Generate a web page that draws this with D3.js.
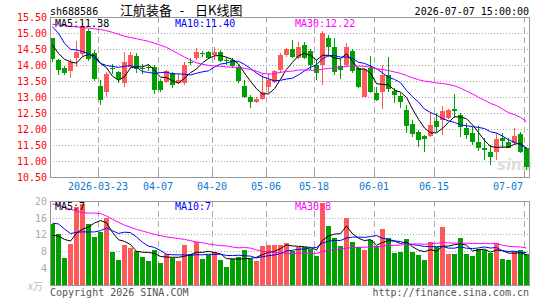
<!DOCTYPE html>
<html>
<head>
<meta charset="utf-8">
<script src="https://cdn.jsdelivr.net/npm/d3@7"></script>
<style>
  body { margin: 0; background: #fff; }
  text { font-family: "DejaVu Sans Mono", monospace; font-size: 10px; }
</style>
</head>
<body>
<div id="chart"></div>
<script>
// trading days shown
var dates = ["03-11","03-12","03-13","03-16","03-17","03-18","03-19","03-20","03-23","03-24",
  "03-25","03-26","03-27","03-30","03-31","04-01","04-02","04-03","04-07","04-08",
  "04-09","04-10","04-13","04-14","04-15","04-16","04-17","04-20","04-21","04-22",
  "04-23","04-24","04-27","04-28","04-29","04-30","05-06","05-07","05-08","05-11",
  "05-12","05-13","05-14","05-15","05-18","05-19","05-20","05-21","05-22","05-25",
  "05-26","05-27","05-28","05-29","06-01","06-02","06-03","06-04","06-05","06-08",
  "06-09","06-10","06-11","06-12","06-15","06-16","06-17","06-18","06-22","06-23",
  "06-24","06-25","06-26","06-29","06-30","07-01","07-02","07-03","07-06","07-07"];

var opens = [14.83,14.16,13.90,13.82,14.22,14.35,15.07,14.36,13.33,13.17,
  13.92,13.79,13.43,13.95,14.28,13.90,13.94,13.95,13.50,13.48,
  13.74,13.45,13.43,14.10,14.21,14.36,14.40,14.31,14.40,14.16,
  14.16,13.95,13.34,12.99,12.85,12.94,13.32,13.48,13.84,14.31,
  14.50,14.21,14.63,14.43,14.00,14.00,14.84,14.55,13.96,14.00,
  14.45,13.92,13.01,13.92,13.13,13.16,13.68,13.19,13.03,12.59,
  12.15,11.92,11.78,11.79,12.25,12.28,12.33,12.62,12.44,12.04,
  11.86,11.60,11.41,11.29,11.29,11.71,11.60,11.55,11.83,11.40];

var highs = [14.85,14.20,13.97,14.18,14.76,15.30,15.11,14.47,13.53,13.79,
  14.04,13.82,14.40,14.40,14.36,14.04,14.00,13.99,13.55,13.84,
  13.79,13.72,14.10,14.21,14.54,14.45,14.44,14.55,14.47,14.26,
  14.21,14.00,13.53,13.06,12.99,13.74,13.74,13.84,14.36,14.52,
  14.78,14.73,14.73,14.49,14.16,15.07,14.94,14.83,14.20,14.68,
  14.50,13.95,13.89,14.28,13.30,13.99,14.25,13.27,13.11,12.75,
  12.28,11.97,11.81,12.54,12.49,12.72,12.62,13.09,12.49,12.18,
  12.07,12.09,11.71,11.50,11.86,11.86,11.71,12.02,11.92,11.45];

var lows = [14.10,13.69,13.69,13.60,13.93,14.26,14.12,13.51,12.75,12.99,
  13.71,13.43,13.32,13.87,13.74,13.73,13.80,13.08,13.17,13.43,
  13.29,13.41,13.38,14.00,14.16,14.25,14.18,14.16,14.10,14.00,
  13.90,13.43,12.96,12.65,12.80,12.91,13.11,13.43,13.74,14.26,
  14.21,14.18,14.18,13.84,13.53,13.38,14.26,13.69,13.57,13.95,
  13.75,13.27,12.99,13.11,12.86,12.64,13.16,12.80,12.65,11.89,
  11.76,11.45,11.29,11.76,11.92,11.81,12.30,12.33,11.76,11.70,
  11.50,11.32,11.03,10.87,11.03,11.40,11.40,11.50,11.26,10.72];

var closes = [14.18,13.84,13.76,14.10,14.40,15.22,14.18,13.55,12.91,13.72,
  13.88,13.55,14.10,14.31,13.87,13.87,13.92,13.21,13.22,13.81,
  13.38,13.53,14.00,14.07,14.40,14.33,14.21,14.42,14.13,14.12,
  13.98,13.50,13.01,12.85,12.94,13.17,13.53,13.81,14.31,14.50,
  14.26,14.55,14.21,14.00,13.74,15.00,14.57,13.79,13.85,14.55,
  13.82,13.32,13.87,13.17,12.91,13.68,13.26,13.06,12.85,12.10,
  11.85,11.66,11.69,12.12,12.07,12.57,12.59,12.57,12.07,11.81,
  11.60,11.40,11.34,11.11,11.69,11.62,11.42,11.78,11.28,10.80];

// volume, in 10k lots
var volumes = [14.6,12.2,6.4,9.8,18.5,19.4,14.6,11.4,12.6,16.0,
  7.8,5.8,9.4,8.8,8.0,6.6,5.6,8.2,5.2,7.2,
  6.4,5.6,9.4,7.2,10.1,6.1,7.0,7.8,5.8,4.2,
  6.0,6.6,8.2,6.2,5.6,9.2,9.4,9.4,9.4,10.0,
  8.0,8.9,8.9,8.6,6.9,19.6,14.1,11.2,9.2,16.0,
  10.2,8.9,8.2,10.6,9.2,13.3,11.2,7.6,7.8,10.9,
  7.8,7.0,5.8,10.2,9.0,13.8,7.3,7.4,11.2,7.4,
  6.9,8.6,8.2,7.6,10.0,6.1,5.8,8.0,8.2,7.4];

// moving-average values at the left edge, before the window is full
var ma5Head = [14.62,14.36,14.18,14.10];
var ma10Head = [15.20,14.99,14.68,14.49,14.47,14.42,14.36,14.21,14.05];
var ma30Head = [15.27,15.25,15.23,15.21,15.19,15.17,15.15,15.13,15.11,15.07,
  15.02,14.96,14.90,14.86,14.82,14.78,14.74,14.68,14.62,14.55,
  14.45,14.35,14.25,14.15,14.07,14.02,13.99,13.97,13.96];
var volMa5Head = [11.8,11.6,10.8,10.4];
var volMa10Head = [14.7,14.5,13.3,12.2,12.5,12.6,12.6,12.6,12.9];
var volMa30Head = [19.3,19.0,18.5,18.0,17.6,17.2,17.1,17.1,17.0,16.4,
  15.6,14.9,14.2,13.7,13.2,12.8,12.4,12.0,11.7,11.4,
  11.2,11.0,10.8,10.5,10.2,10.0,9.7,9.5,9.3];

var priceMaLabels = ["MA5:11.38","MA10:11.40","MA30:12.22"];
var volMaLabels = ["MA5:7","MA10:7","MA30:8"];

var priceTicks = [10.5,11,11.5,12,12.5,13,13.5,14,14.5,15,15.5];
var volTicks = [4,8,12,16,20];
var tickDates = ["03-23","04-07","04-20","05-06","05-18","06-01","06-15","07-07"];
var tickLabels = ["2026-03-23","04-07","04-20","05-06","05-18","06-01","06-15","07-07"];

(function(){

  var width = 545, height = 300,
      left = 50, right = 529,
      priceTop = 17, priceBottom = 177,
      volTop = 201, volBottom = 285,
      upColor = "#ff5a5a",
      downColor = "#00a000",
      maColors = ["#000", "#0000ff", "#ff00ff"],
      gridColor = "#aaa",
      frameColor = "#999";

  function movingAverage(values, n, head){
    return values.map(function(v, i){
      if (i < n - 1) return head[i];
      return d3.mean(values.slice(i - n + 1, i + 1));
    });
  }

  var svg = d3.select("#chart").append("svg")
      .attr("width", width)
      .attr("height", height);

  var x = d3.scaleBand()
      .domain(dates)
      .range([left - 0.5, right + 0.5])
      .paddingInner(1/6)
      .paddingOuter(1/12);

  var y = d3.scaleLinear().domain([10.5, 15.5]).range([priceBottom, priceTop]);
  var yVol = d3.scaleLinear().domain([0, 20]).range([volBottom - 0.5, volTop]);

  var mid = function(i){ return x(dates[i]) + x.bandwidth() / 2; };
  var up = function(i){ return closes[i] >= opens[i]; };

  // grids
  var grid = svg.append("g").attr("shape-rendering", "crispEdges");

  grid.selectAll("line.hp")
    .data(priceTicks.slice(1, -1))
    .enter().append("line")
      .attr("x1", left).attr("x2", right)
      .attr("y1", function(d){ return Math.round(y(d)) + 0.5; })
      .attr("y2", function(d){ return Math.round(y(d)) + 0.5; })
      .attr("stroke", gridColor)
      .attr("stroke-dasharray", "1,2");

  grid.selectAll("line.hv")
    .data(volTicks.slice(0, -1))
    .enter().append("line")
      .attr("x1", left).attr("x2", right)
      .attr("y1", function(d){ return Math.round(yVol(d)) + 0.5; })
      .attr("y2", function(d){ return Math.round(yVol(d)) + 0.5; })
      .attr("stroke", gridColor)
      .attr("stroke-dasharray", "1,2");

  [[priceTop, priceBottom], [volTop, volBottom]].forEach(function(p){
    grid.selectAll(null)
      .data(tickDates)
      .enter().append("line")
        .attr("x1", function(d){ return x(d) + 0.5; })
        .attr("x2", function(d){ return x(d) + 0.5; })
        .attr("y1", p[0]).attr("y2", p[1])
        .attr("stroke", gridColor)
        .attr("stroke-dasharray", "6,4");
  });

  // x ticks
  grid.selectAll("line.tick")
    .data(tickDates)
    .enter().append("line")
      .attr("x1", function(d){ return x(d) + 0.5; })
      .attr("x2", function(d){ return x(d) + 0.5; })
      .attr("y1", priceBottom - 5).attr("y2", priceBottom)
      .attr("stroke", frameColor);

  // watermark
  svg.append("text")
    .attr("x", 497).attr("y", 170)
    .style("font-family", "DejaVu Sans")
    .style("font-size", "15px")
    .style("font-style", "italic")
    .style("font-weight", "bold")
    .attr("fill", "#ddd")
    .text("sina");

  // candles
  var candle = svg.append("g")
      .attr("shape-rendering", "crispEdges")
    .selectAll("g")
    .data(d3.range(dates.length))
    .enter().append("g");

  candle.append("line")
    .attr("x1", function(i){ return mid(i); })
    .attr("x2", function(i){ return mid(i); })
    .attr("y1", function(i){ return y(highs[i]); })
    .attr("y2", function(i){ return y(lows[i]); })
    .attr("stroke", function(i){ return up(i) ? upColor : downColor; });

  candle.append("rect")
    .attr("x", function(i){ return x(dates[i]); })
    .attr("width", x.bandwidth())
    .attr("y", function(i){ return y(Math.max(opens[i], closes[i])); })
    .attr("height", function(i){ return Math.max(1, Math.abs(y(opens[i]) - y(closes[i]))); })
    .attr("fill", function(i){ return up(i) ? upColor : downColor; });

  // volume bars
  svg.append("g")
      .attr("shape-rendering", "crispEdges")
    .selectAll("rect")
    .data(d3.range(dates.length))
    .enter().append("rect")
      .attr("x", function(i){ return x(dates[i]); })
      .attr("width", x.bandwidth())
      .attr("y", function(i){ return yVol(volumes[i]); })
      .attr("height", function(i){ return yVol(0) - yVol(volumes[i]); })
      .attr("fill", function(i){ return up(i) ? upColor : downColor; });

  // moving averages
  var priceMa = [movingAverage(closes, 5, ma5Head), movingAverage(closes, 10, ma10Head), movingAverage(closes, 30, ma30Head)];
  var volMa = [movingAverage(volumes, 5, volMa5Head), movingAverage(volumes, 10, volMa10Head), movingAverage(volumes, 30, volMa30Head)];

  var priceLine = d3.line().x(function(d, i){ return mid(i); }).y(function(d){ return y(d); });
  var volLine = d3.line().x(function(d, i){ return mid(i); }).y(function(d){ return yVol(d); });

  svg.selectAll("path.pma")
    .data(priceMa)
    .enter().append("path")
      .attr("d", priceLine)
      .attr("fill", "none")
      .attr("stroke-width", 1)
      .attr("stroke", function(d, k){ return maColors[k]; });

  svg.selectAll("path.vma")
    .data(volMa)
    .enter().append("path")
      .attr("d", volLine)
      .attr("fill", "none")
      .attr("stroke-width", 1)
      .attr("stroke", function(d, k){ return maColors[k]; });

  // frames
  var frame = svg.append("g")
      .attr("shape-rendering", "crispEdges")
      .attr("fill", "none")
      .attr("stroke", frameColor);
  frame.append("rect").attr("x", left + 0.5).attr("y", priceTop + 0.5).attr("width", right - left).attr("height", priceBottom - priceTop);
  frame.append("rect").attr("x", left + 0.5).attr("y", volTop + 0.5).attr("width", right - left).attr("height", volBottom - volTop);

  // y labels
  svg.selectAll("text.py")
    .data(priceTicks)
    .enter().append("text")
      .attr("x", left - 3)
      .attr("y", function(d){ return y(d) + 4; })
      .attr("text-anchor", "end")
      .attr("fill", "#f00")
      .text(function(d){ return d.toFixed(2); });

  svg.selectAll("text.vy")
    .data(volTicks)
    .enter().append("text")
      .attr("x", left - 3)
      .attr("y", function(d){ return yVol(d) + 4; })
      .attr("text-anchor", "end")
      .attr("fill", "#aaa")
      .text(function(d){ return d; });

  svg.append("text")
    .attr("x", 28).attr("y", 290)
    .attr("fill", "#bbb")
    .style("font-family", "Noto Sans CJK SC")
    .text("x万");

  // x labels
  svg.selectAll("text.xl")
    .data(tickDates)
    .enter().append("text")
      .attr("x", function(d, k){ return k === tickDates.length - 1 ? x(d) - 1 : x(d); })
      .attr("y", 190)
      .attr("text-anchor", function(d, k){ return k === tickDates.length - 1 ? "end" : "middle"; })
      .attr("fill", "#0a7ad0")
      .text(function(d, k){ return tickLabels[k]; });

  // legends
  var legendX = [55, 175, 295];
  svg.selectAll("text.pl")
    .data(priceMaLabels)
    .enter().append("text")
      .attr("x", function(d, k){ return legendX[k]; })
      .attr("y", 27)
      .attr("fill", function(d, k){ return maColors[k]; })
      .text(function(d){ return d; });

  svg.selectAll("text.vl")
    .data(volMaLabels)
    .enter().append("text")
      .attr("x", function(d, k){ return legendX[k]; })
      .attr("y", 210)
      .attr("fill", function(d, k){ return maColors[k]; })
      .text(function(d){ return d; });

  // header
  svg.append("text").attr("x", 50).attr("y", 15).attr("fill", "#000").text("sh688586");
  var title = svg.append("g")
      .style("font-family", "Noto Sans CJK SC")
      .style("font-size", "13px")
      .attr("fill", "#000");
  title.append("text").attr("x", 120).attr("y", 15).style("font-family", "Noto Sans CJK SC").style("font-size", "13px").text("江航装备");
  title.append("text").attr("x", 182).attr("y", 15).attr("text-anchor", "middle").style("font-size", "13px").text("-");
  title.append("text").attr("x", 195).attr("y", 15).style("font-family", "Noto Sans CJK SC").style("font-size", "13px").text("日K线图");
  svg.append("text").attr("x", right).attr("y", 15).attr("text-anchor", "end").attr("fill", "#000").text("2026-07-07 15:00:00");

  // footer
  svg.append("text").attr("x", 50).attr("y", 296).attr("fill", "#555").text("Copyright 2026 SINA.COM");
  svg.append("text").attr("x", right).attr("y", 296).attr("text-anchor", "end").attr("fill", "#555").text("http://finance.sina.com.cn");

})();
</script>
</body>
</html>
